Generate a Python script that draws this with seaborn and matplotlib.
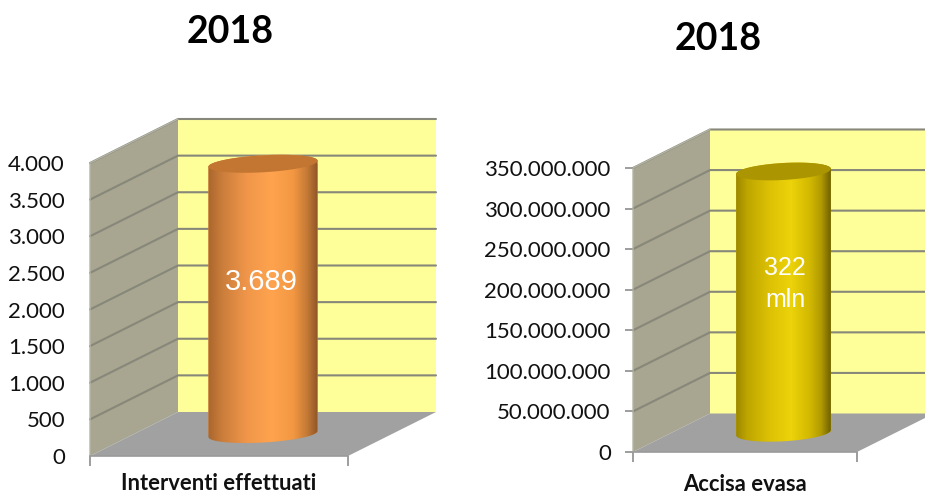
import numpy as np
import matplotlib
matplotlib.use("Agg")
import matplotlib.pyplot as plt
from matplotlib.colors import LinearSegmentedColormap
from matplotlib.patches import Polygon
import seaborn as sns

# ---- data ----
left_title = "2018"
left_category = ["Interventi effettuati"]
left_values = [3689]
left_ticks = [0, 500, 1000, 1500, 2000, 2500, 3000, 3500, 4000]
left_bar_label = "3.689"

right_title = "2018"
right_category = ["Accisa evasa"]
right_values = [322000000]
right_ticks = [0, 50000000, 100000000, 150000000, 200000000,
               250000000, 300000000, 350000000]
right_bar_label = "322\nmln"

# ---- style ----
sns.set_theme(style="white")
plt.rcParams["font.family"] = ["Lato", "DejaVu Sans"]
W, H = 925, 495
BACK, SIDE, FLOOR, GRID = "#FFFF99", "#A8A590", "#A1A1A1", "#87877A"
TEXT = "#111111"

ORANGE = ["#A9662E", "#C97C3A", "#F0964A", "#FFA34E", "#F29742", "#C57A36", "#8F5527"]
YELLOW = ["#9C8800", "#BFA600", "#DCC105", "#ECD30A", "#D2B800", "#B09A00", "#6E6000"]
GRAD_POS = [0, 0.12, 0.35, 0.58, 0.78, 0.9, 1]

fig = plt.figure(figsize=(W / 100, H / 100), dpi=100)
fig.patch.set_facecolor("white")


def axes_px(x0, x1, y_top, y_bot):
    return fig.add_axes([x0 / W, 1 - y_bot / H, (x1 - x0) / W, (y_bot - y_top) / H])


def panel(rect, depth, values, category, ticks, bar_label, colours, cap, label_fs,
          label_xy, xlab_fs, xlab_pad, tick_len, tick_pad):
    x0, x1, y_top, y_bot = rect
    dx_px, dy_px = depth
    ymax = ticks[-1]
    dx = dx_px / (x1 - x0)
    dy = dy_px / (y_bot - y_top)

    # front plane: holds the value axis and the category label
    ax = axes_px(x0, x1, y_top, y_bot)
    ax.set_xlim(0, 1)
    ax.set_ylim(0, ymax)
    ax.patch.set_visible(False)
    tr = ax.transAxes
    for pts, c in [([(dx, dy), (1 + dx, dy), (1 + dx, 1 + dy), (dx, 1 + dy)], BACK),
                   ([(0, 0), (dx, dy), (dx, 1 + dy), (0, 1)], SIDE),
                   ([(0, 0), (1, 0), (1 + dx, dy), (dx, dy)], FLOOR)]:
        ax.add_patch(Polygon(pts, closed=True, transform=tr, facecolor=c,
                             edgecolor="none", clip_on=False, zorder=1))
    for t in ticks[1:]:
        f = t / ymax
        ax.plot([0, dx, 1 + dx], [f, f + dy, f + dy], transform=tr, color=GRID,
                lw=1.5, clip_on=False, zorder=2, solid_joinstyle="miter")
    ax.plot([0, 0, dx], [0, 1, 1 + dy], transform=tr, color="#B5B5A5", lw=1.0,
            clip_on=False, zorder=2)

    ax.set_yticks(ticks)
    ax.set_yticklabels([f"{t:,}".replace(",", ".") for t in ticks],
                       fontsize=16, color=TEXT, va="center_baseline")
    ax.tick_params(axis="y", length=tick_len, width=1.2, color="#8C8C8C",
                   pad=tick_pad, left=True)
    ax.set_xticks([0, 1])
    ax.set_xticklabels(["", ""])
    ax.tick_params(axis="x", length=7, width=1.2, color="#8C8C8C", bottom=True)
    for side, sp in ax.spines.items():
        sp.set_visible(side == "bottom")
        sp.set_color("#9A9A9A")
        sp.set_linewidth(1.2)
    ax.set_xlabel(category[0], fontsize=xlab_fs, fontweight="bold", color=TEXT,
                  labelpad=xlab_pad)

    # bar plane: halfway into the depth of the box, with room below for the round base
    room = 30
    vpp = ymax / (y_bot - y_top)
    ymin = -room * vpp
    bax = axes_px(x0 + dx_px / 2, x1 + dx_px / 2, y_top - dy_px / 2,
                  y_bot - dy_px / 2 + room)
    sns.barplot(x=category, y=values, ax=bax, width=0.423, color=colours[3],
                saturation=1, linewidth=0)
    bax.set_xlim(-0.5, 0.5)
    bax.set_ylim(ymin, ymax)
    bax.axis("off")
    bar = bax.patches[0]
    bx0, bw, bh = bar.get_x(), bar.get_width(), bar.get_height()
    cx = bx0 + bw / 2

    to_px = bax.transData.transform
    to_data = bax.transData.inverted().transform
    (xc, yb), (xr, yt) = to_px((cx, 0)), to_px((bx0 + bw, bh))
    R, slope, hh = xr - xc, 0.055, 8.5

    def arc(yc, a, b, n=60):
        t = np.linspace(a, b, n)
        return np.column_stack([xc + R * np.cos(t), yc + R * slope * np.cos(t) + hh * np.sin(t)])

    # body = lower half of base ellipse + sides + top ellipse
    body_px = np.vstack([arc(yb, np.pi, 2 * np.pi), arc(yt, 0, np.pi)])
    body = Polygon(to_data(body_px), closed=True, transform=bax.transData,
                   facecolor="none", edgecolor="none")
    bar.set_clip_path(body)
    cmap = LinearSegmentedColormap.from_list("cyl", list(zip(GRAD_POS, colours)))
    im = bax.imshow(np.linspace(0, 1, 256)[None, :], cmap=cmap, aspect="auto",
                    extent=[bx0, bx0 + bw, ymin, 1.1 * ymax], zorder=3,
                    interpolation="bilinear")
    im.set_clip_path(body)
    bax.set_xlim(-0.5, 0.5)
    bax.set_ylim(ymin, ymax)
    bax.add_patch(Polygon(to_data(arc(yt, 0, 2 * np.pi)), closed=True, facecolor=cap,
                          edgecolor="none", zorder=4, clip_on=False))
    fig.text(label_xy[0] / W, 1 - label_xy[1] / H, bar_label, color="white",
             fontsize=label_fs, family="Liberation Sans", ha="center", va="center",
             linespacing=1.4, zorder=10)


panel((90, 348, 163, 456), (88, 44), left_values, left_category, left_ticks,
      left_bar_label, ORANGE, "#C27631", 21, (261, 282), 15.8, 2, 0, 18)
panel((633, 857, 168, 452), (77, 38.5), right_values, right_category, right_ticks,
      right_bar_label, YELLOW, "#AB9500", 18, (785, 284), 15.8, 5, 6, 10)

fig.text(230 / W, 1 - 32 / H, left_title, fontsize=27, fontweight="bold",
         ha="center", va="center", color="black")
fig.text(718 / W, 1 - 39 / H, right_title, fontsize=27, fontweight="bold",
         ha="center", va="center", color="black")

fig.savefig("out.png", dpi=100)
